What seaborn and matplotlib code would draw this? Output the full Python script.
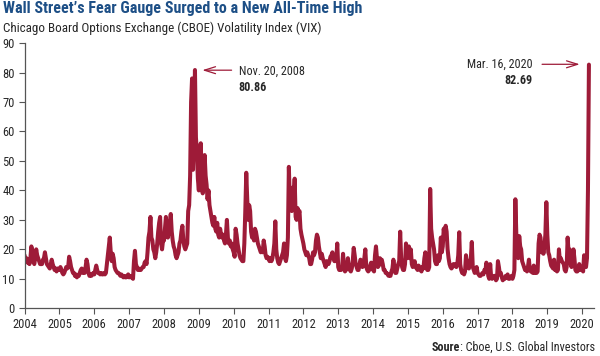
import matplotlib
matplotlib.use("Agg")
import matplotlib.pyplot as plt
import seaborn as sns
import pandas as pd
import numpy as np

# VIX closes, ~3 readings per month
vix_2004 = [18, 16, 17, 15.5, 16.5, 15, 17, 21, 19, 16, 15, 17, 20, 18, 17, 16, 15, 15,
            15, 16.5, 17, 19, 17, 15, 14.5, 14, 13.5, 15, 16.5, 15, 14, 13, 13.5, 12.5, 13.5, 13]
vix_2005 = [13, 14, 13, 12, 11.5, 12, 13, 14, 13.5, 14, 17.5, 16, 14, 13, 12, 12, 11, 11.5,
            10.5, 11, 11, 12, 13, 13.5, 12, 12.5, 12, 14, 16.5, 15, 12, 11, 11.5, 11, 11.5, 12]
vix_2006 = [11.5, 13, 14.5, 13, 12, 12, 11.5, 12, 11.5, 11.5, 12, 11.5, 12, 15, 18, 21, 24, 19,
            16, 18.5, 17, 14, 13, 12.5, 12, 12, 11.5, 11, 11.5, 11, 10.5, 11, 10.5, 10.5, 11, 11.5]
vix_2007 = [10.5, 11, 10.5, 10.5, 10, 16, 19.5, 15, 14, 13, 13.5, 13, 13, 13.5, 14, 14, 15.5, 16,
            15, 19, 24, 26, 31, 24, 23, 20, 19, 17, 19, 22, 26, 29, 31, 22, 20, 23]
vix_2008 = [23, 27, 31, 26, 24, 27, 29, 32, 26, 23, 21, 20, 18, 17, 18, 19, 22, 23,
            26, 28, 23, 21, 20, 21, 22, 33, 35, 45, 70, 78, 47, 65, 80.86, 58, 53, 44]
vix_2009 = [40, 52, 56, 44, 39, 47, 52, 45, 42, 37, 40, 35, 33, 31, 29, 28, 31, 27,
            26, 29, 25, 24, 27, 25, 24, 25, 23, 22, 25, 30, 24, 22, 23, 21, 22, 20]
vix_2010 = [19, 17.5, 27, 25, 22, 20, 18, 17, 16.5, 16, 16, 22, 33, 46, 37, 30, 35, 33,
            26, 24, 25, 23, 27, 26, 24, 22, 21, 20, 19, 20, 19, 23, 21, 18, 17, 17.5]
vix_2011 = [17, 16, 17, 16, 17, 19, 22, 29.5, 20, 17, 15.5, 15, 16, 17, 18, 19, 22, 17,
            16, 18, 24, 48, 36, 40, 33, 41, 38, 44, 31, 30, 34, 32, 33, 27, 25, 23.5]
vix_2012 = [22, 20, 19, 18, 19, 18, 17, 15, 15, 16.5, 19, 18, 19, 23, 25, 24, 21, 19,
            17, 18.5, 17, 16, 15, 14, 16, 15, 15, 16, 17.5, 18, 19, 17, 16, 16, 17, 22]
vix_2013 = [14, 13, 13, 13, 14, 18.5, 14, 12.5, 13, 14, 17, 13.5, 13, 12.5, 13.5, 16, 20.5, 18,
            15, 14, 13, 13, 15, 16.5, 16, 14, 14.5, 17, 20, 14, 13, 12.5, 13, 14.5, 15.5, 13.5]
vix_2014 = [13, 12.5, 18, 21, 17, 14, 14.5, 17, 15, 16.5, 15, 13, 13, 12, 12, 11.5, 11, 11.5,
            11, 12.5, 13.5, 16.5, 14, 12, 12, 13.5, 15, 16, 26, 17, 14, 13, 13, 15, 22, 17]
vix_2015 = [19, 21, 17, 20, 15, 14, 15, 16, 14, 13.5, 13, 14.5, 14, 13, 12.5, 14, 13.5, 17,
            19, 14, 13, 13, 14, 40.5, 27, 24, 22, 20, 16, 15, 15, 18, 16, 17, 24, 19]
vix_2016 = [21, 27, 24, 28, 26, 20, 17, 15, 14, 13.5, 14, 15, 15, 14.5, 14, 15, 18, 25.8,
            15, 13, 12, 12, 11.5, 12.5, 18, 15, 14, 13.5, 15.5, 17, 22.5, 14, 13, 12, 12.5, 14]
vix_2017 = [12, 11.5, 11, 11, 11.5, 12, 11.5, 13, 12.5, 15.5, 14.5, 11, 10, 15, 10.5, 10, 10.5, 11,
            11, 9.5, 10, 16, 14, 11.5, 12, 10.5, 9.5, 10, 10, 11, 10.5, 11.5, 10, 10, 10.5, 11]
vix_2018 = [10, 11, 13, 37, 25, 19, 17, 24.5, 21, 20, 16, 15, 14, 13, 13.5, 12.5, 14, 16.5,
            13, 12.5, 12.5, 12, 14.5, 12, 12.5, 12, 12.5, 22, 25, 24, 19, 21, 18.5, 21, 25, 36]
vix_2019 = [25, 19, 18, 16, 14.5, 14, 13.5, 16.5, 13, 13, 12.5, 13, 20, 16, 17, 16, 15.5, 15,
            13, 12.5, 14, 24, 19, 20, 15, 14, 16, 20, 17, 13, 12.5, 12.5, 13, 15, 13, 13.5]
vix_2020 = [13.5, 12.5, 18, 15.5, 14, 17, 40, 82.69]

years = list(range(2004, 2021))
series = [vix_2004, vix_2005, vix_2006, vix_2007, vix_2008, vix_2009, vix_2010, vix_2011,
          vix_2012, vix_2013, vix_2014, vix_2015, vix_2016, vix_2017, vix_2018, vix_2019, vix_2020]

rows = []
for yr, vals in zip(years, series):
    for i, v in enumerate(vals):
        rows.append((yr + i / 36, v))
df = pd.DataFrame(rows, columns=['date', 'vix'])

line_color = '#9e1b38'
title_color = '#1d4f86'

sns.set_style('ticks')
plt.rcParams['font.family'] = ['Roboto Condensed', 'Liberation Sans Narrow', 'DejaVu Sans']
plt.rcParams['font.stretch'] = 'condensed'

fig = plt.figure(figsize=(6, 3.56), dpi=100)
ax = fig.add_axes([0.041, 0.134, 0.949, 0.745])

sns.lineplot(data=df, x='date', y='vix', ax=ax, color=line_color, linewidth=2.9)

ax.set_xlim(2004, 2020.34)
ax.set_ylim(0, 90)
ax.set_xticks(years)
ax.set_xticklabels([str(y) for y in years])
ax.set_yticks(range(0, 91, 10))
ax.set_xlabel('')
ax.set_ylabel('')
ax.tick_params(axis='both', labelsize=9, length=4, width=0.8, color='#555555', pad=3)
for side in ['top', 'right']:
    ax.spines[side].set_visible(False)
for side in ['left', 'bottom']:
    ax.spines[side].set_color('#555555')
    ax.spines[side].set_linewidth(0.9)

# annotations for the two peaks
arrow = dict(arrowstyle='->,head_length=0.8,head_width=0.25', color=line_color, lw=0.9)
ax.annotate('', xy=(2009.02, 80.8), xytext=(2010.02, 80.8), arrowprops=arrow)
ax.text(2010.14, 80.4, 'Nov. 20, 2008', fontsize=8.7, va='center', ha='left')
ax.text(2010.14, 75.0, '80.86', fontsize=8.7, va='center', ha='left', fontweight='bold')

ax.annotate('', xy=(2020.01, 82.8), xytext=(2018.77, 82.8), arrowprops=arrow)
ax.text(2018.57, 82.8, 'Mar. 16, 2020', fontsize=8.7, va='center', ha='right')
ax.text(2018.57, 77.4, '82.69', fontsize=8.7, va='center', ha='right', fontweight='bold')

fig.text(0.005, 0.977, 'Wall Street\u2019s Fear Gauge Surged to a New All-Time High',
         fontsize=11.5, fontweight='bold', color=title_color, va='center', ha='left')
fig.text(0.005, 0.921, 'Chicago Board Options Exchange (CBOE) Volatility Index (VIX)',
         fontsize=9.4, va='center', ha='left')

src = fig.text(0.992, 0.025, ': Cboe, U.S. Global Investors', fontsize=8.7, va='center', ha='right')
ax.annotate('Soure', xy=(0, 0.5), xycoords=src, fontsize=8.7, fontweight='bold',
            va='center', ha='right', annotation_clip=False)

fig.savefig('out.png', dpi=100)
